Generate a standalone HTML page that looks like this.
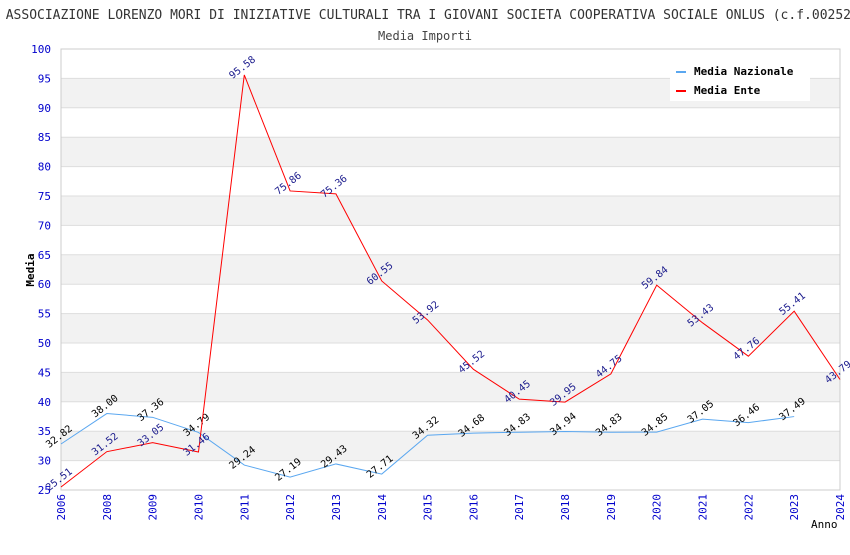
<!DOCTYPE html>
<html><head><meta charset="utf-8"><style>
body{margin:0;background:#fff;width:850px;height:550px;overflow:hidden}
text{font-family:"DejaVu Sans Mono","Liberation Mono",monospace}
</style></head><body>
<svg id="chart" width="850" height="550" xmlns="http://www.w3.org/2000/svg">
<text x="851" y="19" font-size="13" fill="#333" text-anchor="end">ASSOCIAZIONE LORENZO MORI DI INIZIATIVE CULTURALI TRA I GIOVANI SOCIETA COOPERATIVA SOCIALE ONLUS (c.f.00252</text>
<text x="425" y="40" font-size="12" fill="#444" text-anchor="middle">Media Importi</text>
<g id="grid"></g><g id="axes"></g><g id="series"></g>
<text transform="translate(34,270) rotate(-90)" font-size="11" font-weight="bold" text-anchor="middle" fill="#000">Media</text>
<text x="811" y="528" font-size="11" fill="#000">Anno</text>
<g>
<rect x="670" y="58" width="140" height="43" fill="#fff"/>
<rect x="676" y="71" width="10" height="2" fill="#5aa7f0"/>
<text x="694" y="75" font-size="11" font-weight="bold">Media Nazionale</text>
<rect x="676" y="90" width="10" height="2" fill="#f00"/>
<text x="694" y="94" font-size="11" font-weight="bold">Media Ente</text>
</g>
</svg>
<script>
const years=["2006","2008","2009","2010","2011","2012","2013","2014","2015","2016","2017","2018","2019","2020","2021","2022","2023","2024"];
const nazionale=[32.82,38.00,37.36,34.79,29.24,27.19,29.43,27.71,34.32,34.68,34.83,34.94,34.83,34.85,37.05,36.46,37.49,null];
const ente=[25.51,31.52,33.05,31.46,95.58,75.86,75.36,60.55,53.92,45.52,40.45,39.95,44.75,59.84,53.43,47.76,55.41,43.79];
const yTicks=[25,30,35,40,45,50,55,60,65,70,75,80,85,90,95,100];
const NS="http://www.w3.org/2000/svg";
const L=61,R=840,T=49,B=490;
const x=i=>L+i*(R-L)/(years.length-1);
const y=v=>B-(v-25)*(B-T)/75;
function mk(p,t,a){const e=document.createElementNS(NS,t);for(const k in a)e.setAttribute(k,a[k]);p.appendChild(e);return e;}
const grid=document.getElementById('grid'),axes=document.getElementById('axes'),ser=document.getElementById('series');
for(let i=0;i<yTicks.length-1;i++){
 const band=mk(grid,'rect',{x:L,y:y(yTicks[i+1]),width:R-L,height:y(yTicks[i])-y(yTicks[i+1]),fill:i%2?'#f2f2f2':'#fff'});
 
}
yTicks.forEach(v=>{
 const l=mk(grid,'line',{x1:L,x2:R,y1:y(v),y2:y(v),stroke:'#ddd'});
 
 const t=mk(axes,'text',{x:L-10,y:y(v)+4,'font-size':11,fill:'#00c','text-anchor':'end'});t.textContent=v;
 
});
mk(axes,'rect',{x:L,y:T,width:R-L,height:B-T,fill:'none',stroke:'#ccc'});
years.forEach((yr,i)=>{
 const t=mk(axes,'text',{transform:`translate(${x(i)+4},${B+4}) rotate(-90)`,'font-size':11,fill:'#00c','text-anchor':'end'});t.textContent=yr;
 
});
function draw(data,color,lab,name){
 let d='';data.forEach((v,i)=>{if(v==null)return;d+=(d?'L':'M')+x(i)+','+y(v);});
 const p=mk(ser,'path',{d,fill:'none',stroke:color,'stroke-width':1});
 
 data.forEach((v,i)=>{if(v==null)return;
  const t=mk(ser,'text',{transform:`translate(${x(i)},${y(v)-5}) rotate(-38)`,'font-size':10,fill:lab,'text-anchor':'middle'});
  t.textContent=v.toFixed(2);
  
 });
}
draw(nazionale,'#5aa7f0','#000','nazionale');
draw(ente,'#f00','#1a1a8c','ente');
</script>
</body></html>
